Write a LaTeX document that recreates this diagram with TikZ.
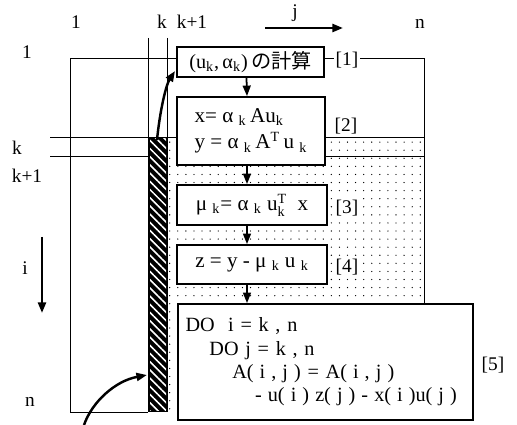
\documentclass[tikz,border=0pt]{standalone}
\usepackage{amsmath}
\usepackage{fontspec}
\setmainfont{Liberation Serif}
\newfontfamily\jpfont{Noto Sans CJK JP}
\usetikzlibrary{positioning,arrows.meta,patterns.meta}

\newcommand{\sk}{\textsubscript{k}}
\newcommand{\gp}{\hspace{0.3em}}

\begin{document}
\begin{tikzpicture}[
    x=0.02cm, y=-0.02cm,
    font=\fontsize{11}{13}\selectfont,
    >={Triangle[length=6pt,width=4.5pt]},
    calcbox/.style={
        draw=black,
        fill=white,
        line width=1pt,
        align=left,
        inner sep=2pt,
        font=\fontsize{12}{15}\selectfont
    },
    steplabel/.style={fill=white, inner sep=1pt, font=\fontsize{11}{13}\selectfont},
    idxlabel/.style={inner sep=0pt},
    gridline/.style={draw=black, line width=0.5pt},
    flowarrow/.style={->, line width=1pt},
    bigarrow/.style={->, line width=1.4pt}
]
    \useasboundingbox (0,0) rectangle (517,425);

    % stippled part of the matrix
    \fill[pattern={Dots[distance=4.6pt, radius=0.38pt]}, pattern color=black]
        (168,137) rectangle (424,412);

    % matrix outline and index lines
    \draw[gridline] (70,412) -- (70,58) -- (424,58) -- (424,304);
    \draw[gridline] (70,412) -- (148,412);
    \draw[gridline] (148,38) -- (148,137);
    \draw[gridline] (167,38) -- (167,137);
    \draw[gridline] (50,137) -- (424,137);
    \draw[gridline] (50,156) -- (148,156);
    \draw[gridline] (325,156) -- (424,156);

    % column k
    \fill[black] (148,137) rectangle (168,412);
    \fill[pattern={Lines[angle=-45, distance=3.3pt, line width=0.9pt]}, pattern color=white]
        (150,139) rectangle (166,410);

    % steps
    \node[calcbox, minimum width=2.94cm, minimum height=0.6cm,
          font=\fontsize{11.5}{14}\selectfont] (calc1) at (250.5,62)
        {(u\sk,\,α\sk)\,{\jpfont の計算}};
    \node[calcbox, minimum width=2.96cm, minimum height=1.36cm] (calc2) at (251,131)
        {x=\ α\ \sk\,Au\sk\\y\ =\ α\ \sk\,A\textsuperscript{T}\,u\ \sk};
    \node[calcbox, minimum width=3.0cm, minimum height=0.8cm] (calc3) at (252,205)
        {μ\ \sk=\ α\ \sk\ u$^{\text{T}}_{\text{k}}$\enspace x};
    \node[calcbox, minimum width=3.0cm, minimum height=0.78cm] (calc4) at (252,264.5)
        {z = y - μ\ \sk\ u\ \sk};
    \node[calcbox, minimum width=5.9cm, minimum height=2.32cm, text width=5.6cm,
          font=\fontsize{11.5}{13.3}\selectfont] (calc5) at (325.5,362)
        {DO\ \ i = k , n\\
         \hspace*{13.6pt}DO j = k , n\\
         \hspace*{26.6pt}A(\gp i\gp,\gp j\gp) = A(\gp i\gp,\gp j\gp)\\
         \hspace*{39.6pt}-\gp u(\gp i\gp)\gp z(\gp j\gp)\gp -\gp x(\gp i\gp)u(\gp j\gp)};

    \node[steplabel] (lab1) at (347,60) {[1]};
    \node[steplabel] (lab2) at (346,126) {[2]};
    \node[steplabel] (lab3) at (347,208) {[3]};
    \node[steplabel] (lab4) at (347,267) {[4]};
    \node[steplabel] (lab5) at (493,365) {[5]};

    \draw[flowarrow] ([xshift=-0.08cm]calc1.south) -- ([xshift=-0.08cm]calc2.north);
    \draw[flowarrow] ([xshift=-0.08cm]calc2.south) -- ([xshift=-0.1cm]calc3.north);
    \draw[flowarrow] ([xshift=-0.1cm]calc3.south) -- ([xshift=-0.1cm]calc4.north);
    \draw[flowarrow] ([xshift=-0.1cm]calc4.south) -- ([xshift=-0.1cm]calc4.south |- calc5.north);

    % indices
    \node[idxlabel] (col1) at (76,22) {1};
    \node[idxlabel] (colk) at (162,22) {k};
    \node[idxlabel] (colk1) at (192,22) {k+1};
    \node[idxlabel] (colj) at (295,13) {j};
    \node[idxlabel] (coln) at (420,24) {n};
    \node[idxlabel] (row1) at (27,52) {1};
    \node[idxlabel] (rowk) at (17,148) {k};
    \node[idxlabel] (rowk1) at (27,176) {k+1};
    \node[idxlabel] (rowi) at (25,268) {i};
    \node[idxlabel] (rown) at (30,402) {n};

    \coordinate (jfrom) at (265,28);
    \coordinate (jto) at (343,28);
    \coordinate (ifrom) at (42,237);
    \coordinate (ito) at (42,313);
    \draw[bigarrow] (jfrom) -- (jto);
    \draw[bigarrow] (ifrom) -- (ito);

    % pointers to column k
    \coordinate (hatchtop) at (157,140);
    \coordinate (boxcorner) at (175,71);
    \coordinate (tailfoot) at (84,425);
    \coordinate (hatchside) at (147,375);
    \draw[bigarrow] (hatchtop) .. controls (160,110) and (166,85) .. (boxcorner);
    \draw[bigarrow] (tailfoot) .. controls (92,402) and (115,381) .. (hatchside);

\end{tikzpicture}
\end{document}
